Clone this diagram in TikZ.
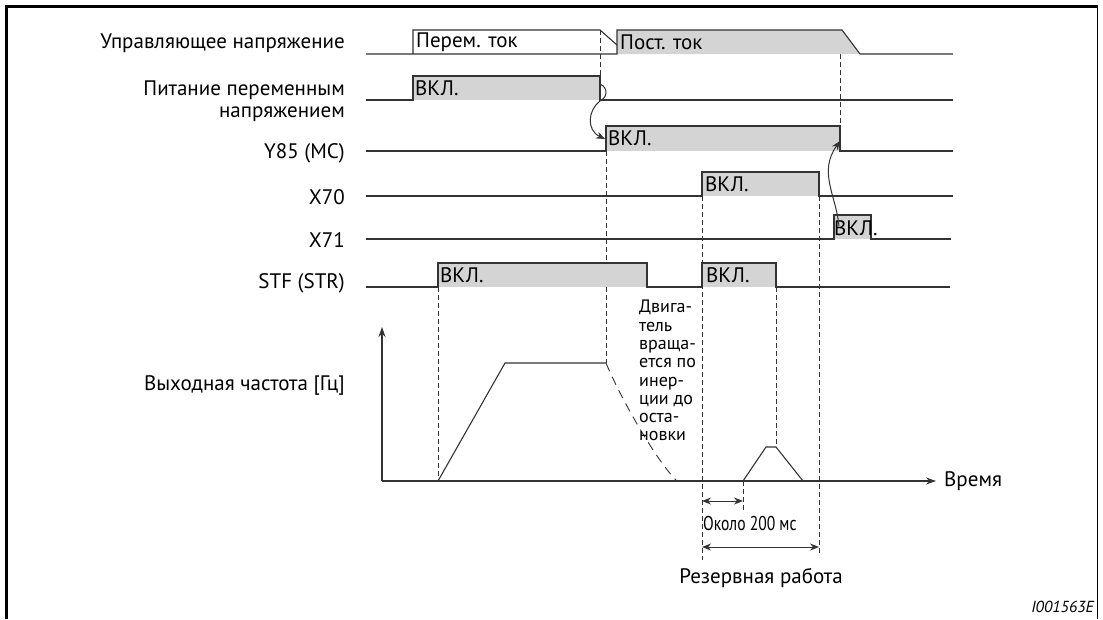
\documentclass[tikz,border=0pt]{standalone}
\usepackage{fontspec}
\setmainfont{PT Sans}
\usetikzlibrary{arrows.meta}
\definecolor{ln}{HTML}{333333}
\definecolor{fl}{HTML}{D4D4D4}
\tikzset{
  wave/.style={draw=ln, line width=1.1pt, line join=miter},
  dsh/.style={draw=ln, line width=0.8pt, dash pattern=on 5pt off 3pt},
  coast/.style={draw=ln, line width=0.9pt, dash pattern=on 9pt off 6pt},
  lbl/.style={anchor=east, font=\fontsize{21}{22}\selectfont, inner sep=0pt, align=right},
  onlbl/.style={anchor=west, font=\fontsize{21}{22}\selectfont, inner sep=0pt},
  arr/.style={draw=ln, line width=1pt, -{Stealth[length=9pt,width=7pt]}},
  dimarr/.style={draw=ln, line width=1pt, {Stealth[length=9pt,width=7pt]}-{Stealth[length=9pt,width=7pt]}},
  axarr/.style={draw=ln, line width=1.1pt, -{Stealth[length=10pt,width=7pt]}}
}
\begin{document}
\begin{tikzpicture}[x=1pt,y=-1pt]
\useasboundingbox (0,0) rectangle (1103,619);
% frame
\draw[line width=3pt] (6,619) -- (6,6) -- (1097,6);
\draw[line width=1.5pt] (1097.5,5) -- (1097.5,619);

% labels
\node[lbl] (l1) at (345,43) {Управляющее напряжение};
\node[lbl] (l2) at (345,101) {Питание переменным\\напряжением};
\node[lbl] (l3) at (345,153) {Y85 (MC)};
\node[lbl] (l4) at (345,197) {X70};
\node[lbl] (l5) at (345,240) {X71};
\node[lbl] (l6) at (345,283) {STF (STR)};
\node[lbl] (l7) at (345,385) {Выходная частота [Гц]};

% dashed guides
\draw[dsh] (600,30) -- (600,76);
\draw[dsh] (606,151) -- (606,363);
\draw[dsh] (840,30) -- (840,126);
\draw[dsh] (438,287) -- (438,481);
\draw[dsh] (702,196) -- (702,560);
\draw[dsh] (819,196) -- (819,553);
\draw[dsh] (776,287) -- (776,447);
\draw[dsh] (743,481) -- (743,510);

% signal 1: control voltage
\fill[fl] (617,30) -- (842,30) -- (860,54) -- (617,54) -- cycle;
\draw[wave] (366,54) -- (617,54) -- (617,30) -- (842,30) -- (860,54) -- (953,54);
\draw[wave] (413,54) -- (413,30) -- (600,30) -- (617,45);
\node[onlbl] (acl) at (416,42) {Перем. ток};
\node[onlbl] (dcl) at (620,42) {Пост. ток};

% signal 2: AC supply
\fill[fl] (413,76) rectangle (600,100);
\draw[wave] (366,100) -- (413,100) -- (413,76) -- (600,76) -- (600,100) -- (953,100);
\node[onlbl] (on2) at (415,88) {ВКЛ.};

% signal 3: Y85
\fill[fl] (606,126) rectangle (840,151);
\draw[wave] (366,151) -- (606,151) -- (606,126) -- (840,126) -- (840,151) -- (953,151);
\node[onlbl] (on3) at (608,138) {ВКЛ.};

% signal 4: X70
\fill[fl] (702,172) rectangle (819,196);
\draw[wave] (366,196) -- (702,196) -- (702,172) -- (819,172) -- (819,196) -- (953,196);
\node[onlbl] (on4) at (705,184) {ВКЛ.};

% signal 5: X71
\fill[fl] (834,215) rectangle (871,239);
\draw[wave] (366,239) -- (834,239) -- (834,215) -- (871,215) -- (871,239) -- (951,239);
\node[onlbl] (on5) at (834,228) {ВКЛ.};

% signal 6: STF
\fill[fl] (438,263) rectangle (647,287);
\fill[fl] (702,263) rectangle (776,287);
\draw[wave] (366,287) -- (438,287) -- (438,263) -- (647,263) -- (647,287) -- (702,287) -- (702,263) -- (776,263) -- (776,287) -- (950,287);
\node[onlbl] (on6a) at (440,275) {ВКЛ.};
\node[onlbl] (on6b) at (706,275) {ВКЛ.};

% wavy arrows
\coordinate (acoff) at (600,84);
\coordinate (y85on) at (605,139);
\coordinate (x71on) at (839,226);
\coordinate (y85off) at (840,141);
\draw[arr] (acoff) .. controls (609,88) and (607,98) .. (600,101) .. controls (588,110) and (586,130) .. (y85on);
\draw[arr] (x71on) .. controls (836,195) and (818,172) .. (y85off);

% frequency axes
\coordinate (org) at (382,481);
\coordinate (ytop) at (382,327);
\coordinate (xend) at (936,481);
\draw[axarr] (org) -- (ytop);
\draw[axarr] (org) -- (xend);
\node[anchor=west, font=\fontsize{21}{22}\selectfont, inner sep=0pt] (time) at (944,481) {Время};

% frequency curve
\draw[wave] (438,481) -- (505,363) -- (606,363);
\draw[coast] (606,363) .. controls (621,399) and (656,460) .. (676,480);
\draw[wave] (743,481) -- (766,447) -- (776,447) -- (803,481);

\node[anchor=north west, font=\fontsize{18}{18.3}\selectfont, inner sep=0pt, align=left] (coasttxt) at (639,300)
  {Двига-\\тель\\враща-\\ется по\\инер-\\ции до\\оста-\\новки};

% dimension arrows
\coordinate (d1a) at (702,501);
\coordinate (d1b) at (743,501);
\coordinate (d2a) at (702,547);
\coordinate (d2b) at (819,547);
\draw[dimarr] (d1a) -- (d1b);
\draw[dimarr] (d2a) -- (d2b);
\node[anchor=west, inner sep=0pt] (t200) at (703,523) {\scalebox{0.78}[1]{\fontsize{20}{22}\selectfont Около 200 мс}};
\node[font=\fontsize{21}{22}\selectfont, inner sep=0pt] (reserve) at (761,578) {Резервная работа};

\node[anchor=east, font=\fontsize{16}{17}\selectfont\itshape, inner sep=0pt] (code) at (1094,607) {I001563E};
\end{tikzpicture}
\end{document}
